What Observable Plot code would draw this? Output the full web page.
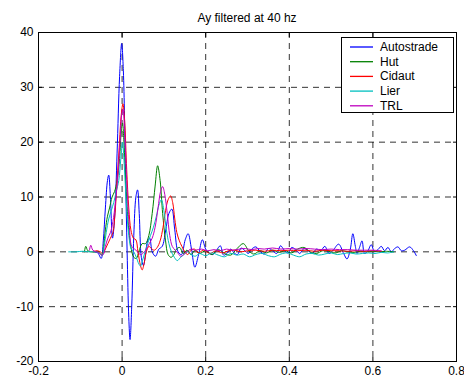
<!DOCTYPE html>
<html>
<head>
<meta charset="utf-8">
<script src="https://cdn.jsdelivr.net/npm/d3@7"></script>
<script src="https://cdn.jsdelivr.net/npm/@observablehq/plot@0.6"></script>
<style>
  html, body { margin: 0; padding: 0; background: #fff; }
  #wrap { position: relative; width: 464px; height: 379px; font-family: "Liberation Sans", Arial, sans-serif; }
  #title { position: absolute; left: 30px; width: 434px; top: 11px; text-align: center; font-size: 12px; line-height: 14px; color: #000; }
  #chart { position: absolute; left: 0; top: 26px; }
  #legend { position: absolute; left: 341px; top: 37px; width: 111px; height: 74px; border: 1px solid #000; background: #fff; box-sizing: content-box; }
  #legend svg { position: absolute; left: 0; top: 0; }
  .row { position: absolute; left: 38px; height: 14px; font-size: 12px; line-height: 14px; white-space: nowrap; color: #000; }
</style>
</head>
<body>
<div id="wrap">
  <div id="title">Ay filtered at 40 hz</div>
  <div id="chart"></div>
  <div id="legend"></div>
</div>
<script>
const seriesNames = ["Autostrade", "Hut", "Cidaut", "Lier", "TRL"];
const seriesColors = ["#0000ff", "#008000", "#ff0000", "#00bfbf", "#bf00bf"];
const xTicks = [-0.2, 0, 0.2, 0.4, 0.6, 0.8];
const yTicks = [-20, -10, 0, 10, 20, 30, 40];
const xGrid = [0, 0.2, 0.4, 0.6];
const yGrid = [-10, 0, 10, 20, 30];

const autostrade = [[-0.065,0],[-0.058,-0.2],[-0.05,-1.2],[-0.045,2],[-0.04,8],[-0.035,13],[-0.032,14],[-0.028,10],[-0.023,2.5],[-0.018,6],[-0.012,18],[-0.006,32],[-0.001,38],[0.003,33],[0.008,15],[0.012,0],[0.016,-12],[0.019,-16],[0.023,-10],[0.028,3],[0.033,10],[0.037,11.3],[0.041,7],[0.046,-1],[0.051,-2.5],[0.056,-0.5],[0.061,2],[0.066,2.5],[0.072,0],[0.08,-0.8],[0.088,0.5],[0.096,1],[0.104,3.8],[0.112,7],[0.119,7.8],[0.126,4],[0.134,0],[0.142,-0.5],[0.151,2.2],[0.158,3.3],[0.166,0.5],[0.174,-2.8],[0.183,-0.5],[0.192,2.2],[0.2,0.5],[0.208,-0.2],[0.217,-0.5],[0.226,0.3],[0.235,1.1],[0.243,-0.6],[0.252,-0.2],[0.26,0.5],[0.268,-0.2],[0.276,-0.5],[0.285,0.7],[0.294,0.2],[0.302,-0.3],[0.31,0.5],[0.32,0.9],[0.33,0.1],[0.34,-0.4],[0.35,0.6],[0.36,0.2],[0.37,-0.3],[0.379,1.1],[0.388,0.3],[0.397,-0.2],[0.406,0.8],[0.415,0.4],[0.425,-0.3],[0.435,0.6],[0.445,0.2],[0.455,-0.3],[0.465,0.5],[0.475,0.2],[0.485,1.0],[0.495,-0.3],[0.505,0.3],[0.518,1.4],[0.53,-0.3],[0.538,-1.3],[0.546,0.5],[0.552,3.3],[0.558,1],[0.562,-0.3],[0.568,0.8],[0.574,2],[0.58,-0.3],[0.588,0.2],[0.596,1.3],[0.604,0],[0.612,0.4],[0.62,1.0],[0.628,0.2],[0.636,0.8],[0.644,0],[0.652,0.6],[0.66,0.9],[0.668,0.2],[0.676,0.3],[0.688,0.9],[0.697,0.2],[0.704,-0.7]];

const hut = [[-0.09,0],[-0.087,1],[-0.082,0.2],[-0.075,0],[-0.065,0],[-0.055,0],[-0.048,-0.5],[-0.044,1],[-0.04,4],[-0.035,6.5],[-0.03,8],[-0.024,10],[-0.018,11],[-0.012,13],[-0.006,17],[-0.002,22],[0.001,23.5],[0.005,19],[0.01,11],[0.016,4],[0.022,0.5],[0.028,-1],[0.034,-1.2],[0.04,0],[0.048,1.5],[0.056,1.5],[0.064,3],[0.072,7],[0.079,12],[0.085,15.7],[0.091,13],[0.097,7],[0.104,2],[0.11,-0.5],[0.117,-1],[0.124,-0.5],[0.13,0.5],[0.138,0.8],[0.146,-0.3],[0.155,0.3],[0.165,-0.5],[0.175,0.3],[0.185,-0.3],[0.2,0.2],[0.215,-0.5],[0.23,0.4],[0.245,-0.3],[0.26,-0.6],[0.275,0.6],[0.29,1.5],[0.303,0.2],[0.315,-0.4],[0.33,0.2],[0.345,-0.2],[0.36,0.3],[0.375,-0.1],[0.39,0.2],[0.405,-0.2],[0.42,0.5],[0.435,0.8],[0.45,0],[0.465,-0.3],[0.48,0.2],[0.495,0.1],[0.51,-0.2],[0.525,0.2],[0.54,0],[0.555,-0.1],[0.57,0.1],[0.585,0],[0.6,0.1],[0.615,0],[0.63,0.1],[0.65,0]];

const cidaut = [[-0.07,0],[-0.06,0.2],[-0.052,0],[-0.046,-0.3],[-0.04,0.5],[-0.034,1.5],[-0.028,2.5],[-0.022,3.5],[-0.017,7],[-0.012,13],[-0.007,19],[-0.002,25],[0.002,27],[0.006,24],[0.011,15],[0.016,8],[0.021,4],[0.027,2.5],[0.033,2.2],[0.038,0],[0.044,-2.5],[0.048,-3.3],[0.053,-2],[0.058,0],[0.064,1],[0.07,0.6],[0.077,0.3],[0.084,0.8],[0.091,2],[0.098,4.5],[0.104,7.5],[0.11,9.5],[0.116,10.2],[0.121,9],[0.126,6],[0.131,3.5],[0.137,2],[0.143,1],[0.15,0],[0.157,-0.5],[0.165,0.3],[0.173,0.5],[0.182,-0.2],[0.195,0.3],[0.21,-0.3],[0.225,0.2],[0.24,-0.2],[0.255,0.2],[0.27,0.3],[0.285,0],[0.3,0.2],[0.32,0.3],[0.34,0.1],[0.36,0.3],[0.38,0.2],[0.4,0.3],[0.42,0.2],[0.44,0.3],[0.46,0.1],[0.48,0.3],[0.5,0.2],[0.52,0.2],[0.54,0.1],[0.56,0.2],[0.58,0.1],[0.6,0.2],[0.62,0.1]];

const lier = [[-0.128,0],[-0.11,0],[-0.095,0.1],[-0.08,0],[-0.065,0],[-0.055,-0.2],[-0.048,-0.7],[-0.043,1],[-0.038,3.5],[-0.032,6],[-0.026,7.5],[-0.02,9],[-0.014,11],[-0.008,13],[-0.003,17],[0.001,20],[0.005,16],[0.01,9],[0.016,3],[0.022,0.5],[0.028,0],[0.034,-1],[0.04,-2.2],[0.044,-2.6],[0.049,-1.5],[0.055,0],[0.061,1.5],[0.068,3],[0.075,4.5],[0.082,6.5],[0.088,8.5],[0.094,9.5],[0.1,7.5],[0.106,4],[0.112,1.5],[0.118,0],[0.125,-1],[0.132,-1.6],[0.14,-1],[0.148,-0.5],[0.156,0],[0.165,-0.5],[0.175,-0.8],[0.185,-0.3],[0.2,-0.7],[0.215,-0.2],[0.23,-0.6],[0.245,-0.9],[0.26,-0.3],[0.275,-0.6],[0.29,-0.4],[0.305,-0.9],[0.32,-0.5],[0.335,-0.3],[0.35,-0.7],[0.365,-0.9],[0.38,-0.4],[0.395,-0.2],[0.41,-0.6],[0.425,-0.9],[0.44,-0.4],[0.455,-0.3],[0.47,-0.6],[0.485,-0.4],[0.5,-0.2],[0.515,-0.5],[0.53,-0.3],[0.545,-0.2],[0.56,-0.4],[0.575,-0.3],[0.59,-0.2],[0.605,-0.3],[0.62,-0.1],[0.635,-0.2],[0.65,0]];

const trl = [[-0.078,0.3],[-0.075,1.2],[-0.07,0.3],[-0.062,0],[-0.055,-0.2],[-0.05,-0.6],[-0.045,-0.5],[-0.04,1],[-0.034,2.5],[-0.028,3.5],[-0.022,5.5],[-0.016,9],[-0.01,14],[-0.005,20],[-0.001,25],[0.002,26],[0.006,22],[0.011,13],[0.017,5],[0.023,1],[0.03,0.5],[0.037,0],[0.044,-0.5],[0.051,-0.2],[0.058,0.5],[0.065,1.5],[0.072,2.5],[0.079,4.5],[0.086,8],[0.092,11],[0.097,11.9],[0.102,10.5],[0.108,7],[0.114,3],[0.12,1],[0.127,0.3],[0.134,-0.3],[0.14,-0.8],[0.147,-0.5],[0.155,0],[0.165,0.5],[0.175,0.3],[0.19,0.5],[0.205,0.2],[0.22,0.4],[0.235,0.2],[0.25,0.5],[0.265,0.3],[0.28,0.5],[0.295,0.6],[0.31,0.4],[0.325,0.6],[0.34,0.5],[0.36,0.7],[0.38,0.5],[0.4,0.6],[0.42,0.5],[0.44,0.6],[0.46,0.5],[0.48,0.4],[0.5,0.5],[0.52,0.4],[0.54,0.4],[0.56,0.3],[0.58,0.3],[0.6,0.3],[0.62,0.2]];

const seriesData = [autostrade, hut, cidaut, lier, trl];
const rows = seriesData.flatMap((arr, i) => arr.map(([t, v]) => ({series: seriesNames[i], t, v})));

const fmt = d => String(d);
const plot = Plot.plot({
  width: 464,
  height: 353,
  marginLeft: 38,
  marginRight: 8,
  marginTop: 6,
  marginBottom: 18,
  style: {fontFamily: "'Liberation Sans', Arial, sans-serif", fontSize: "12px", color: "#000", background: "#fff", overflow: "visible"},
  x: {domain: [-0.2, 0.8]},
  y: {domain: [-20, 40]},
  color: {domain: seriesNames, range: seriesColors},
  marks: [
    Plot.gridX(xGrid, {stroke: "#000", strokeOpacity: 0.8, strokeDasharray: "6,5"}),
    Plot.gridY(yGrid, {stroke: "#000", strokeOpacity: 0.8, strokeDasharray: "6,5"}),
    Plot.line(rows, {x: "t", y: "v", z: "series", stroke: "series", strokeWidth: 1, curve: "catmull-rom"}),
    Plot.frame({stroke: "#000", strokeWidth: 1}),
    Plot.axisX(xTicks, {anchor: "bottom", tickSize: -4, tickPadding: 9, tickFormat: fmt, label: null, fontSize: 12}),
    Plot.axisX(xTicks, {anchor: "top", tickSize: -4, tickFormat: () => "", label: null}),
    Plot.axisY(yTicks, {anchor: "left", tickSize: -4, tickPadding: 9, tickFormat: fmt, label: null, fontSize: 12}),
    Plot.axisY(yTicks, {anchor: "right", tickSize: -4, tickFormat: () => "", label: null})
  ]
});
document.getElementById("chart").appendChild(plot);

// legend: coloured swatches drawn as SVG lines, labels as HTML text
const legend = document.getElementById("legend");
const ns = "http://www.w3.org/2000/svg";
const lsvg = document.createElementNS(ns, "svg");
lsvg.setAttribute("width", "111");
lsvg.setAttribute("height", "74");
seriesNames.forEach((name, i) => {
  const yy = 9 + i * 14.7;
  const ln = document.createElementNS(ns, "line");
  ln.setAttribute("x1", "8");
  ln.setAttribute("x2", "31");
  ln.setAttribute("y1", yy);
  ln.setAttribute("y2", yy);
  ln.setAttribute("stroke", seriesColors[i]);
  ln.setAttribute("stroke-width", "1.3");
  lsvg.appendChild(ln);
  const r = document.createElement("div");
  r.className = "row";
  r.style.top = (2 + i * 14.7) + "px";
  r.textContent = name;
  legend.appendChild(r);
});
legend.appendChild(lsvg);
</script>
</body>
</html>
